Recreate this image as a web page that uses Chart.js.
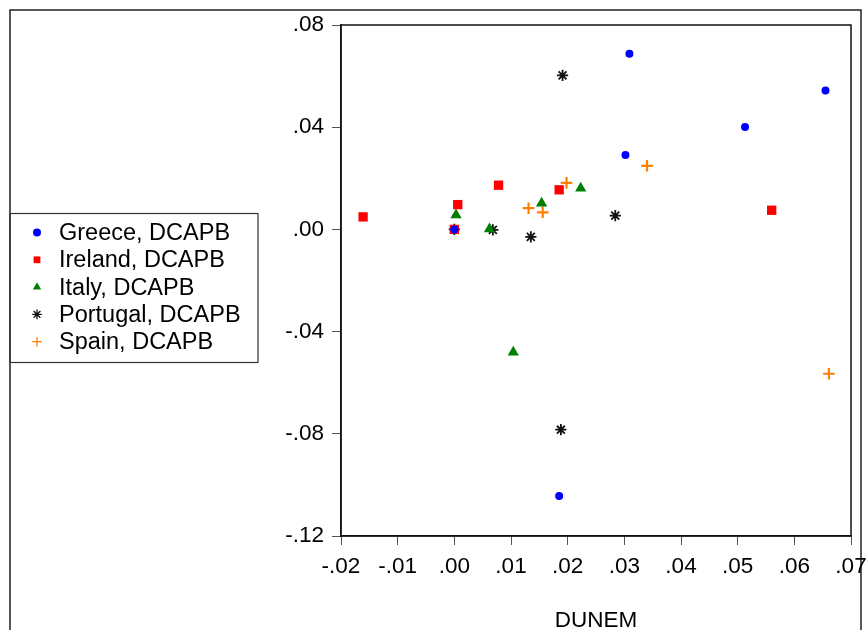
<!DOCTYPE html>
<html>
<head>
<meta charset="utf-8">
<title>DCAPB vs DUNEM</title>
<script src="https://cdn.jsdelivr.net/npm/chart.js@4.4.1/dist/chart.umd.min.js"></script>
<style>
    html, body { margin: 0; padding: 0; background: #fff; }
    #wrap { width: 866px; height: 630px; }
</style>
</head>
<body>
<div id="wrap"><canvas id="scatterChart" width="866" height="630"></canvas></div>
<script>
// Δεδομένα: DUNEM (x) και DCAPB (y) ανά χώρα
const seriesNames = ['Greece, DCAPB', 'Ireland, DCAPB', 'Italy, DCAPB', 'Portugal, DCAPB', 'Spain, DCAPB'];

const greeceX = [0.000, 0.0309, 0.0302, 0.0513, 0.0655, 0.0185];
const greeceY = [0.000, 0.0687, 0.0291, 0.0401, 0.0544, -0.1043];

const irelandX = [-0.0161, 0.0006, 0.0078, 0.0185, 0.000, 0.0560];
const irelandY = [0.0049, 0.0097, 0.0173, 0.0155, 0.000, 0.0075];

const italyX = [0.0003, 0.0062, 0.0154, 0.0223, 0.0104];
const italyY = [0.0056, 0.0002, 0.0102, 0.0161, -0.0481];

const portugalX = [0.000, 0.0068, 0.0135, 0.0284, 0.0191, 0.0188];
const portugalY = [0.000, -0.0002, -0.0029, 0.0054, 0.0603, -0.0784];

const spainX = [0.0131, 0.0156, 0.0198, 0.0340, 0.0661];
const spainY = [0.0083, 0.0067, 0.0182, 0.0249, -0.0565];

const xTicks = [-0.02, -0.01, 0.00, 0.01, 0.02, 0.03, 0.04, 0.05, 0.06, 0.07];
const yTicks = [-0.12, -0.08, -0.04, 0.00, 0.04, 0.08];

const FONT = "'Liberation Sans', Arial, sans-serif";
const FONT_SIZE = 22.5;
const LEGEND_FONT_SIZE = 23.5;

function toPoints(xs, ys) {
    return xs.map((x, i) => ({ x: x, y: ys[i] }));
}

// Μορφή ετικετών όπως στο EViews: ".04", "-.08"
function fmtTick(value) {
    return Number(value).toFixed(2).replace('0.', '.');
}

// Πλαίσιο γύρω από την εικόνα, το γράφημα και το υπόμνημα
const framePlugin = {
    id: 'framePlugin',
    beforeDraw(chart) {
        const ctx = chart.ctx;
        ctx.save();
        ctx.fillStyle = '#fff';
        ctx.fillRect(0, 0, chart.width, chart.height);
        ctx.strokeStyle = '#222';
        ctx.lineWidth = 1.5;
        ctx.strokeRect(10, 10, 851, 660);
        ctx.restore();
    },
    afterDraw(chart) {
        const ctx = chart.ctx;
        const a = chart.chartArea;
        ctx.save();
        ctx.strokeStyle = '#111';
        ctx.lineWidth = 1.5;
        ctx.strokeRect(a.left, a.top, a.right - a.left, a.bottom - a.top);

        // Υπόμνημα αριστερά
        ctx.strokeStyle = '#333';
        ctx.lineWidth = 1.2;
        ctx.strokeRect(10, 213.5, 248, 149);
        ctx.font = LEGEND_FONT_SIZE + 'px ' + FONT;
        ctx.textBaseline = 'middle';
        ctx.textAlign = 'left';
        chart.data.datasets.forEach((ds, i) => {
            const y = 232.5 + i * 27.3;
            const opts = {
                pointStyle: ds.pointStyle,
                radius: Math.min(ds.pointRadius, 4.8),
                borderWidth: ds.pointStyle === 'cross' || ds.pointStyle === 'star' ? 1.3 : 0
            };
            ctx.fillStyle = ds.backgroundColor;
            ctx.strokeStyle = ds.borderColor;
            ctx.lineWidth = opts.borderWidth;
            Chart.helpers.drawPoint(ctx, opts, 37, y);
            ctx.fillStyle = '#000';
            ctx.fillText(ds.label, 59, y + 1);
        });
        ctx.restore();
    }
};

const ctx = document.getElementById('scatterChart');

new Chart(ctx, {
    type: 'scatter',
    data: {
        datasets: [
            {
                label: seriesNames[0],
                data: toPoints(greeceX, greeceY),
                pointStyle: 'circle',
                pointRadius: 4,
                backgroundColor: '#0000ff',
                borderColor: '#0000ff',
                borderWidth: 0
            },
            {
                label: seriesNames[1],
                data: toPoints(irelandX, irelandY),
                pointStyle: 'rect',
                pointRadius: 6.6,
                backgroundColor: '#ff0000',
                borderColor: '#ff0000',
                borderWidth: 0
            },
            {
                label: seriesNames[2],
                data: toPoints(italyX, italyY),
                pointStyle: 'triangle',
                pointRadius: 6.5,
                backgroundColor: '#008000',
                borderColor: '#008000',
                borderWidth: 0
            },
            {
                label: seriesNames[3],
                data: toPoints(portugalX, portugalY),
                pointStyle: 'star',
                pointRadius: 5.6,
                backgroundColor: '#000',
                borderColor: '#111',
                borderWidth: 1.8
            },
            {
                label: seriesNames[4],
                data: toPoints(spainX, spainY),
                pointStyle: 'cross',
                pointRadius: 5.8,
                backgroundColor: '#ff8000',
                borderColor: '#ff8000',
                borderWidth: 2.2
            }
        ]
    },
    options: {
        responsive: false,
        animation: false,
        events: [],
        layout: {
            padding: { top: 25, right: 15, bottom: 0, left: 0 }
        },
        plugins: {
            legend: { display: false },
            tooltip: { enabled: false }
        },
        scales: {
            x: {
                type: 'linear',
                position: 'bottom',
                min: xTicks[0],
                max: xTicks[xTicks.length - 1],
                afterBuildTicks(scale) {
                    scale.ticks = xTicks.map(v => ({ value: v }));
                },
                afterFit(scale) {
                    scale.height = 94;
                    scale.paddingLeft = 0;
                    scale.paddingRight = 0;
                },
                ticks: {
                    callback: fmtTick,
                    color: '#000',
                    font: { family: FONT, size: FONT_SIZE },
                    padding: 8,
                    maxRotation: 0,
                    autoSkip: false
                },
                grid: {
                    drawOnChartArea: false,
                    drawTicks: true,
                    tickLength: 9,
                    color: '#555'
                },
                border: { display: true, color: '#111', width: 1.5 },
                title: {
                    display: true,
                    text: 'DUNEM',
                    color: '#000',
                    font: { family: FONT, size: FONT_SIZE },
                    padding: { top: 0, bottom: -4 }
                }
            },
            y: {
                type: 'linear',
                position: 'left',
                min: yTicks[0],
                max: yTicks[yTicks.length - 1],
                afterBuildTicks(scale) {
                    scale.ticks = yTicks.map(v => ({ value: v }));
                },
                afterFit(scale) {
                    scale.width = 341;
                    scale.paddingTop = 0;
                    scale.paddingBottom = 0;
                },
                ticks: {
                    callback: fmtTick,
                    color: '#000',
                    font: { family: FONT, size: FONT_SIZE },
                    padding: 8,
                    autoSkip: false
                },
                grid: {
                    drawOnChartArea: false,
                    drawTicks: true,
                    tickLength: 9,
                    color: '#555'
                },
                border: { display: true, color: '#111', width: 1.5 }
            }
        }
    },
    plugins: [framePlugin]
});
</script>
</body>
</html>
